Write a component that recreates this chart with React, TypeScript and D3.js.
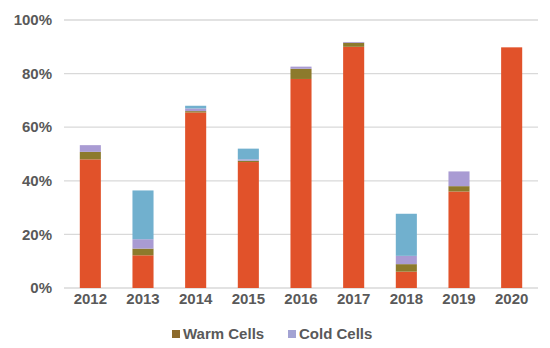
import { useEffect, useRef } from "react";
import * as d3 from "d3";

const years = ["2012", "2013", "2014", "2015", "2016", "2017", "2018", "2019", "2020"];
// warm cells: main share + darker cap
const warmMain = [48, 12.2, 65.5, 47, 78, 90, 6.1, 36, 89.8];
const warmCap = [2.8, 2.5, 0.5, 0.5, 3.8, 1.5, 2.8, 2, 0];
// cold cells: lavender bottom + blue top
const coldLow = [2.5, 3.5, 1, 0.5, 0.8, 0.3, 3.1, 5.5, 0];
const coldHigh = [0, 18.2, 1, 4, 0, 0, 15.7, 0, 0];
const yTicks = [0, 20, 40, 60, 80, 100];

const keys = ["warmMain", "warmCap", "coldLow", "coldHigh"] as const;
const colors: Record<string, string> = {
  warmMain: "#E1522A",
  warmCap: "#8C7A2C",
  coldLow: "#A99BD3",
  coldHigh: "#71B0CE",
};

const legend = [
  { label: "Warm Cells", color: "#8C6A2C" },
  { label: "Cold Cells", color: "#A3A3D3" },
];

type Row = { year: string } & Record<string, number>;

export default function App() {
  const ref = useRef<SVGSVGElement | null>(null);

  useEffect(() => {
    const svg = d3.select(ref.current);
    svg.selectAll("*").remove();

    const W = 550;
    const H = 348;
    const margin = { top: 20, right: 12, bottom: 60, left: 64 };
    const innerW = W - margin.left - margin.right;
    const innerH = H - margin.top - margin.bottom;

    const rows: Row[] = years.map((year, i) => ({
      year,
      warmMain: warmMain[i],
      warmCap: warmCap[i],
      coldLow: coldLow[i],
      coldHigh: coldHigh[i],
    })) as Row[];

    const layers = d3.stack<Row>().keys(keys as unknown as string[])(rows);

    const x = d3.scaleBand().domain(years).range([0, innerW]).paddingInner(0.6).paddingOuter(0.3);
    const y = d3.scaleLinear().domain([0, 100]).range([innerH, 0]);

    const g = svg.append("g").attr("transform", `translate(${margin.left},${margin.top})`);

    g.selectAll(".grid")
      .data(yTicks)
      .enter()
      .append("line")
      .attr("x1", 0)
      .attr("x2", innerW)
      .attr("y1", (d) => y(d))
      .attr("y2", (d) => y(d))
      .attr("stroke", "#D9D9D9")
      .attr("stroke-width", 1.3);

    g.selectAll(".ytick")
      .data(yTicks)
      .enter()
      .append("text")
      .attr("x", -12)
      .attr("y", (d) => y(d))
      .attr("dy", "0.35em")
      .attr("text-anchor", "end")
      .attr("font-family", "Liberation Sans, Arial, sans-serif")
      .attr("font-weight", "bold")
      .attr("font-size", 15)
      .attr("fill", "#595959")
      .text((d) => `${d}%`);

    g.selectAll(".layer")
      .data(layers)
      .enter()
      .append("g")
      .attr("fill", (d) => colors[d.key])
      .selectAll("rect")
      .data((d) => d)
      .enter()
      .append("rect")
      .attr("x", (d) => x(d.data.year) ?? 0)
      .attr("width", x.bandwidth())
      .attr("y", (d) => y(d[1]))
      .attr("height", (d) => Math.max(0, y(d[0]) - y(d[1])));

    g.selectAll(".xtick")
      .data(years)
      .enter()
      .append("text")
      .attr("x", (d) => (x(d) ?? 0) + x.bandwidth() / 2)
      .attr("y", innerH + 16)
      .attr("text-anchor", "middle")
      .attr("font-family", "Liberation Sans, Arial, sans-serif")
      .attr("font-weight", "bold")
      .attr("font-size", 15)
      .attr("fill", "#595959")
      .text((d) => d);

    const lg = svg.append("g").attr("transform", `translate(172,334)`);
    const item = lg
      .selectAll(".item")
      .data(legend)
      .enter()
      .append("g")
      .attr("transform", (_, i) => `translate(${i * 116},0)`);
    item
      .append("rect")
      .attr("x", 0)
      .attr("y", -4)
      .attr("width", 8)
      .attr("height", 8)
      .attr("fill", (d) => d.color);
    item
      .append("text")
      .attr("x", 11)
      .attr("dy", "0.35em")
      .attr("font-family", "Liberation Sans, Arial, sans-serif")
      .attr("font-weight", "bold")
      .attr("font-size", 15)
      .attr("fill", "#595959")
      .text((d) => d.label);
  }, []);

  return (
    <svg
      ref={ref}
      width={550}
      height={348}
      style={{ position: "absolute", left: 0, top: 0, background: "#fff" }}
    />
  );
}
